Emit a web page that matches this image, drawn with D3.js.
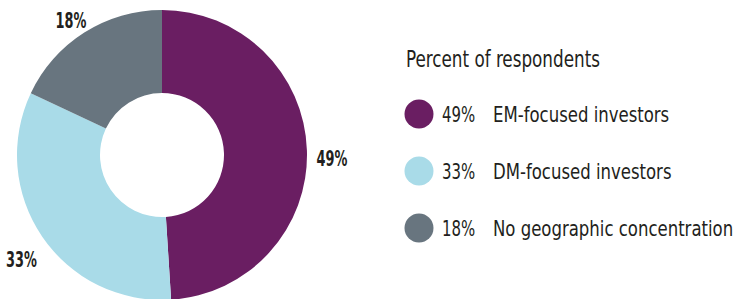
<!DOCTYPE html>
<html>
<head>
<meta charset="utf-8">
<script src="https://cdn.jsdelivr.net/npm/d3@7"></script>
<style>
  body { margin: 0; background: #fff; }
  svg text { fill: #231f20; }
  .lbl { font-family: "Liberation Sans Narrow", "DejaVu Sans Condensed", sans-serif; font-weight: bold; font-size: 20.5px; }
  .leg { font-family: "Liberation Sans Narrow", "DejaVu Sans Condensed", sans-serif; font-size: 21px; }
</style>
</head>
<body>
<div class="container"></div>
<script>
// data
const categories = ["EM-focused investors", "DM-focused investors", "No geographic concentration"];
const values = [49, 33, 18];
const colors = ["#6a1e62", "#a9dbe8", "#68757f"];
const legendTitle = "Percent of respondents";

const width = 743, height = 299;
const cx = 162, cy = 155,
    outerR = 145, innerR = 62,
    labelR = 170;

const data = categories.map((c, i) => ({name: c, value: values[i], color: colors[i]}));

// place text at (x,y) and squeeze it sideways, like the condensed face of the original
function placeText(sel, x, y, k) {
    sel.attr('transform', (d, i) => {
        let px = typeof x === 'function' ? x(d, i) : x;
        let py = typeof y === 'function' ? y(d, i) : y;
        return 'translate(' + px + ',' + py + ') scale(' + k + ',1)';
    });
}

let svg = d3.select('.container')
    .append('svg')
    .attr('width', width)
    .attr('height', height);

let pie = d3.pie().sort(null).value(d => d.value);
let arc = d3.arc().innerRadius(innerR).outerRadius(outerR);
let labelArc = d3.arc().innerRadius(labelR).outerRadius(labelR);

let donut = svg.append('g')
    .attr('transform', 'translate(' + cx + ',' + cy + ')');

donut.selectAll('path')
    .data(pie(data))
    .enter().append('path')
    .attr('d', arc)
    .attr('fill', d => d.data.color);

// percent labels outside the ring
donut.selectAll('text')
    .data(pie(data))
    .enter().append('text')
    .classed('lbl', true)
    .attr('dy', '0.36em')
    .style('text-anchor', 'middle')
    .text(d => d.data.value + '%')
    .call(placeText, d => labelArc.centroid(d)[0], d => labelArc.centroid(d)[1] + 9, 0.7);

// legend
let legend = svg.append('g')
    .attr('transform', 'translate(405,0)');

legend.append('text')
    .classed('leg', true)
    .style('font-size', '22.5px')
    .text(legendTitle)
    .call(placeText, 1, 67, 0.83);

let yRow = d3.scalePoint().domain(categories).range([114, 228]);

let rows = legend.selectAll('g.row')
    .data(data)
    .enter().append('g')
    .classed('row', true)
    .attr('transform', d => 'translate(0,' + yRow(d.name) + ')');

rows.append('circle')
    .attr('cx', 14)
    .attr('cy', 0)
    .attr('r', 14.5)
    .attr('fill', d => d.color);

rows.append('text')
    .classed('leg', true)
    .attr('dy', '0.36em')
    .text(d => d.value + '%')
    .call(placeText, 37, 0, 0.79);

rows.append('text')
    .classed('leg', true)
    .attr('dy', '0.36em')
    .text(d => d.name)
    .call(placeText, 88, 0, 0.875);
</script>
</body>
</html>
